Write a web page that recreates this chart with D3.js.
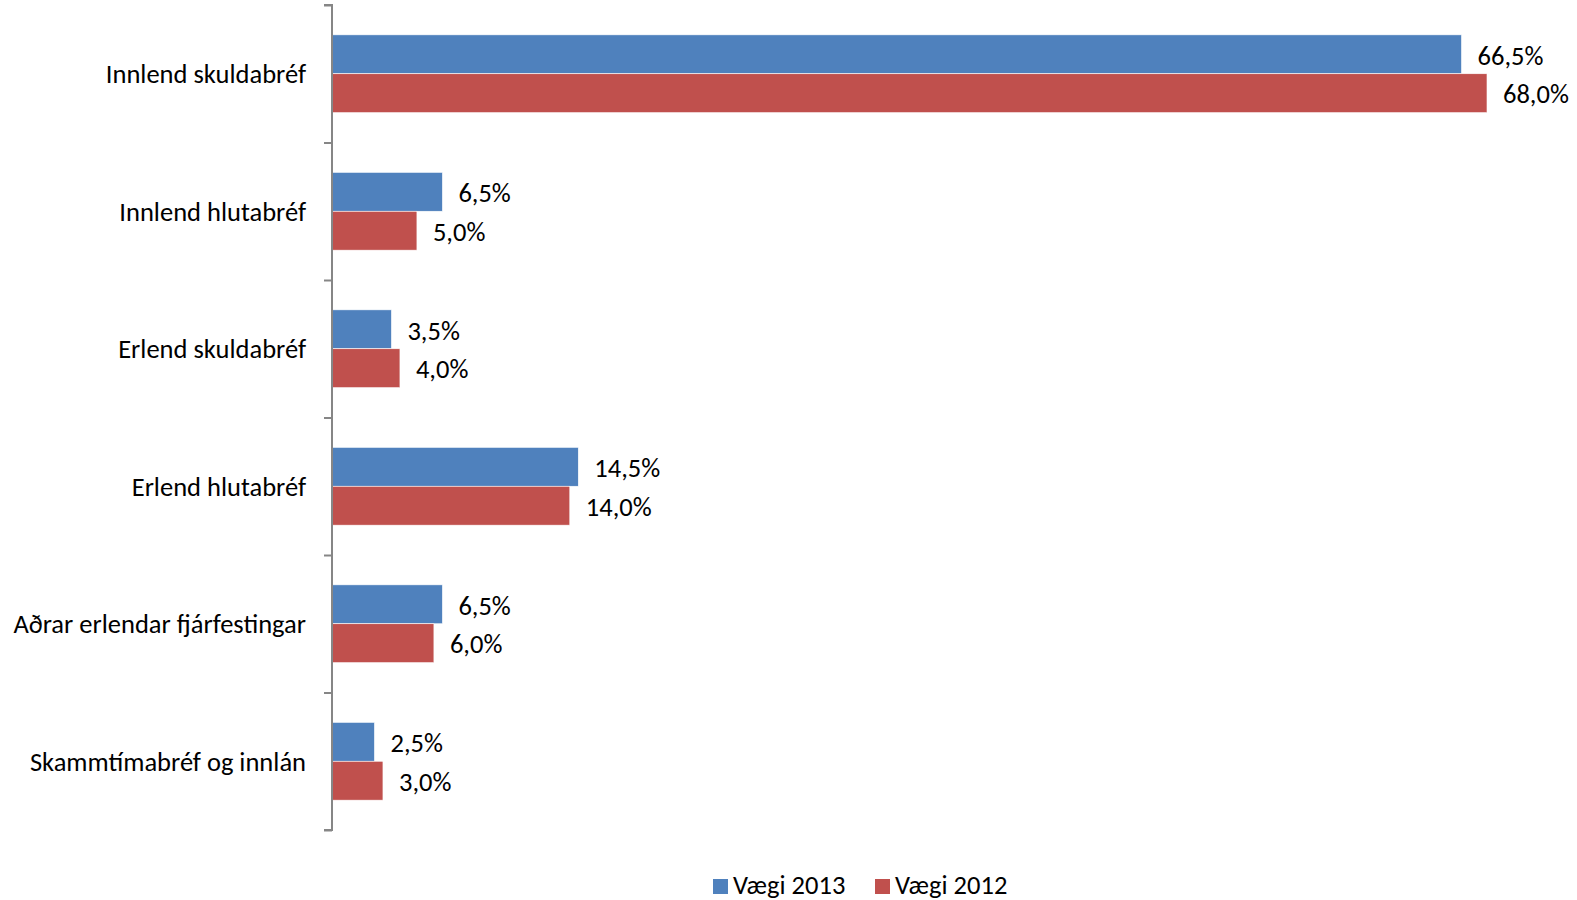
<!DOCTYPE html>
<html><head><meta charset="utf-8">
<script src="https://cdn.jsdelivr.net/npm/d3@7"></script>
<style>body{margin:0;background:#fff}svg{display:block}text{font-family:Carlito,Calibri,"Open Sans",sans-serif}</style>
</head><body><svg id="c" width="1577" height="900"></svg>
<script>
const categories = ["Innlend skuldabréf","Innlend hlutabréf","Erlend skuldabréf","Erlend hlutabréf","Aðrar erlendar fjárfestingar","Skammtímabréf og innlán"];
const series = ["Vægi 2013","Vægi 2012"];
const values2013 = [66.5,6.5,3.5,14.5,6.5,2.5];
const values2012 = [68.0,5.0,4.0,14.0,6.0,3.0];
const colors = ["#4F81BD","#C0504D"];

const FS = 26.5;
const svg = d3.select("#c");
const x0 = 332, x1 = 1487, yTop = 5, yBot = 830;
const x = d3.scaleLinear().domain([0,68]).range([x0,x1]);
const y = d3.scaleBand().domain(categories).range([yTop,yBot]).paddingInner(0.434).paddingOuter(0.217);
const ys = d3.scaleBand().domain(series).range([0,y.bandwidth()]);
const fmt = v => d3.format(".1f")(v).replace(".",",") + "%";

const data = categories.map((c,i)=>({c, vals:[values2013[i],values2012[i]]}));
const g = svg.append("g");
data.forEach(d=>{
  d.vals.forEach((v,j)=>{
    const yy = y(d.c)+ys(series[j]);
    g.append("rect").attr("x",x(0)).attr("y",yy).attr("width",x(v)-x(0)).attr("height",ys.bandwidth())
      .attr("fill",colors[j]).attr("stroke","#fff").attr("stroke-width",0.6);
    g.append("text").attr("x",x(v)+16).attr("y",yy+ys.bandwidth()/2+1).attr("dy","0.35em")
      .attr("font-size",FS).attr("fill","#000").text(fmt(v));
  });
});

// axis
const ax = d3.axisLeft(d3.scaleLinear().domain([0,6]).range([yTop,yBot])).ticks(6).tickSize(8).tickFormat("");
const axg = svg.append("g").attr("transform",`translate(${x0},0)`).call(ax);
axg.selectAll("path,line").attr("stroke","#868686").attr("stroke-width",2);
axg.select(".domain").attr("d",`M-8,${yTop}H0V${yBot}H-8`);
// category labels
svg.append("g").selectAll("text").data(categories).join("text")
  .attr("x",306).attr("y",d=>y(d)+y.bandwidth()/2).attr("dy","0.35em").attr("text-anchor","end")
  .attr("font-size",FS).attr("fill","#000").text(d=>d);

// legend
const leg = svg.append("g");
const legX = [713, 875];
series.forEach((s,j)=>{
  leg.append("rect").attr("x",legX[j]).attr("y",879).attr("width",15).attr("height",15).attr("fill",colors[j]);
  leg.append("text").attr("x",legX[j]+20).attr("y",884.5).attr("dy","0.35em").attr("font-size",FS).attr("fill","#000").text(s);
});
</script></body></html>
